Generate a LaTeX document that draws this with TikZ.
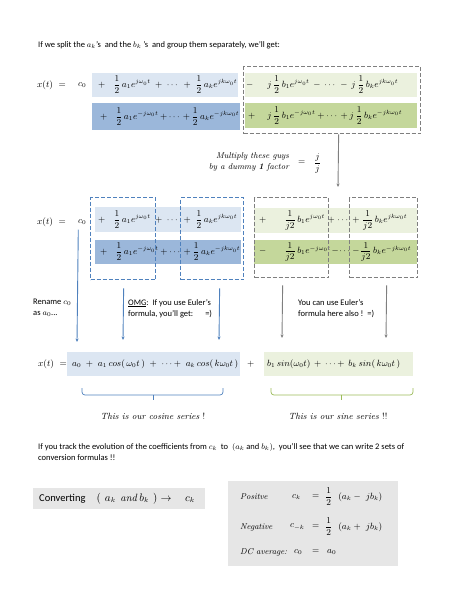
\documentclass[tikz,border=0pt]{standalone}
\usepackage{amsmath}
\usepackage{fontspec}
\setsansfont{Carlito}
\usetikzlibrary{arrows.meta}
\definecolor{lblue}{HTML}{DCE6F2}
\definecolor{dblue}{HTML}{9BB7DA}
\definecolor{lgreen}{HTML}{EBF1DE}
\definecolor{dgreen}{HTML}{C4D79B}
\definecolor{boxgray}{HTML}{E6E6E6}
\definecolor{edgeblue}{HTML}{4F81BD}
\definecolor{edgegray}{HTML}{7F7F7F}
\definecolor{bracegreen}{HTML}{9BBB59}
\tikzset{
  band/.style={draw=none, inner sep=0, anchor=north west},
  lbband/.style={band, fill=lblue},
  dbband/.style={band, fill=dblue},
  lgband/.style={band, fill=lgreen},
  dgband/.style={band, fill=dgreen},
  graybox/.style={band, fill=boxgray},
  bdash/.style={draw=edgeblue, dash pattern=on 4pt off 2pt, line width=1.3pt, inner sep=0, anchor=north west},
  gdash/.style={draw=edgegray, dash pattern=on 4pt off 2pt, line width=1.3pt, inner sep=0, anchor=north west},
  mt/.style={inner sep=0, anchor=west, font=\fontsize{9}{11}\selectfont},
  lab/.style={inner sep=0, anchor=west, font=\rmfamily\itshape\fontsize{8.5}{11}\selectfont},
  txt/.style={inner sep=0, anchor=north west, align=left},
  barrow/.style={draw=edgeblue, line width=0.9pt, -{Stealth[length=3.5pt,width=3pt]}},
  garrow/.style={draw=edgegray, line width=0.9pt, -{Stealth[length=3.5pt,width=3pt]}},
  bbrace/.style={draw=edgeblue, line width=0.7pt, rounded corners=3pt},
  gbrace/.style={draw=bracegreen, line width=0.7pt, rounded corners=3pt},
}
\begin{document}
\begin{tikzpicture}[x=1pt,y=-1pt,font=\sffamily\fontsize{8.5}{11}\selectfont]
\useasboundingbox (0,0) rectangle (474,613);

% intro
\node[anchor=west, inner sep=0] (intro) at (38,45) {If we split the $a_k$'s\ \ and the $b_k$ 's\ \ and group them separately, we'll get:};

% ---------- row 1
\node[mt] (x1) at (37,85) {$x(t)\ =$};
\node[mt] (c01) at (78,85) {$c_0$};
\node[lbband, minimum width=146pt, minimum height=24pt] (lb1) at (92,73) {};
\node[dbband, minimum width=148pt, minimum height=27pt] (db1) at (92,103) {};
\node[lgband, minimum width=172pt, minimum height=24pt] (lg1) at (245,73) {};
\node[dgband, minimum width=172pt, minimum height=25pt] (dg1) at (245,103) {};
\node[mt] (lb1t) at (98,85) {\hbox to 139pt{$+$\hspace{8pt}$\dfrac12\,a_1e^{j\omega_0t}$\hfill$+$\hfill$\cdots$\hfill$+$\hfill$\dfrac12\,a_ke^{jk\omega_0t}$}};
\node[mt] (db1t) at (100,116.5) {\hbox to 139pt{$+$\hspace{8pt}$\dfrac12\,a_1e^{-j\omega_0t}$\hfill$+$\hfill$\cdots$\hfill$+$\hfill$\dfrac12\,a_ke^{-jk\omega_0t}$}};
\node[mt] (lg1t) at (246,85) {\hbox to 152pt{$-$\hspace{14pt}$j\,\dfrac12\,b_1e^{j\omega_0t}$\hfill$-$\hfill$\cdots$\hfill$-$\hfill$j\,\dfrac12\,b_ke^{jk\omega_0t}$}};
\node[mt] (dg1t) at (248,115.5) {\hbox to 154pt{$+$\hspace{12pt}$j\,\dfrac12\,b_1e^{-j\omega_0t}$\hfill$+$\hfill$\cdots$\hfill$+$\hfill$j\,\dfrac12\,b_ke^{-jk\omega_0t}$}};
\node[gdash, minimum width=177pt, minimum height=67pt] (g1) at (243,66) {};

% multiply
\coordinate (a1end) at (338,187);
\draw[garrow] ([xshift=6.5pt]g1.south) -- (a1end);
\node[inner sep=0, align=right, font=\rmfamily\itshape\fontsize{8.5}{11}\selectfont] (mult) at (249,162) {Multiply these guys\\by a dummy \textbf{1} factor};
\node[mt] (multeq) at (298,163) {$=\ \ \dfrac{j}{j}$};

% ---------- row 2
\node[mt] (x2) at (37,222) {$x(t)\ =$};
\node[mt] (c02) at (78,222) {$c_0$};
\node[lbband, minimum width=146pt, minimum height=25pt] (lb2) at (95,207) {};
\node[dbband, minimum width=146pt, minimum height=24pt] (db2) at (95,240) {};
\node[lgband, minimum width=163pt, minimum height=25pt] (lg2) at (254,208) {};
\node[dgband, minimum width=163pt, minimum height=24pt] (dg2) at (254,240) {};
\node[mt] (lb2t) at (98,219.5) {\hbox to 139pt{$+$\hspace{8pt}$\dfrac12\,a_1e^{j\omega_0t}$\hfill$+$\hfill$\cdots$\hfill$+$\hfill$\dfrac12\,a_ke^{jk\omega_0t}$}};
\node[mt] (db2t) at (100,252) {\hbox to 140pt{$+$\hspace{8pt}$\dfrac12\,a_1e^{-j\omega_0t}$\hfill$+$\hfill$\cdots$\hfill$+$\hfill$\dfrac12\,a_ke^{-jk\omega_0t}$}};
\node[mt] (lg2t) at (259,220.5) {\hbox to 148pt{$+$\hspace{18pt}$\dfrac{1}{j2}\,b_1e^{j\omega_0t}$\hfill$+$\hfill$\cdots$\hfill$+$\hfill$\dfrac{1}{j2}\,b_ke^{jk\omega_0t}$}};
\node[mt] (dg2t) at (259,252) {\hbox to 152pt{$-$\hspace{18pt}$\dfrac{1}{j2}\,b_1e^{-j\omega_0t}$\hfill$-$\hfill$\cdots$\hfill$-$\hfill$\dfrac{1}{j2}\,b_ke^{-jk\omega_0t}$}};
\node[bdash, minimum width=65pt, minimum height=82pt] (bb1) at (90,197) {};
\node[bdash, minimum width=63pt, minimum height=82pt] (bb2) at (180,197) {};
\node[gdash, minimum width=74pt, minimum height=80pt] (gb3) at (254,197) {};
\node[gdash, minimum width=68pt, minimum height=80pt] (gb4) at (349,197) {};

% arrows row 2 -> row 3
\coordinate (e0) at (77,342);
\coordinate (e1) at (123,340);
\coordinate (e2) at (219,340);
\coordinate (e3) at (282,338);
\coordinate (e4) at (386,338);
\draw[barrow] ([xshift=-4pt,yshift=-5pt]c02.south) -- (e0);
\draw[barrow] ([xshift=0.5pt,yshift=-8pt]bb1.south) -- (e1);
\draw[barrow] ([xshift=7.5pt,yshift=-8pt]bb2.south) -- (e2);
\draw[garrow] ([xshift=-9pt,yshift=-7pt]gb3.south) -- (e3);
\draw[garrow] ([xshift=3pt,yshift=-7pt]gb4.south) -- (e4);

\node[txt] (rename) at (33,299) {Rename $c_0$\\as $a_0$...};
\node[txt] (omg) at (128,299) {\underline{OMG}:\ \ If you use Euler's\\formula, you'll get:\hspace{12pt}=)};
\node[txt] (euler) at (298,299) {You can use Euler's\\formula here also !\ \ =)};

% ---------- row 3
\node[mt] (x3) at (38,364) {$x(t)\ =$};
\node[lbband, minimum width=173pt, minimum height=24pt] (bl3) at (67,352) {};
\node[mt] (plus3) at (247,364) {$+$};
\node[lgband, minimum width=149pt, minimum height=24pt] (gr3) at (264,352) {};
\node[mt] (bl3t) at (72,364) {\hbox to 166pt{$a_0$\hfill$+$\hfill$a_1\,cos(\,\omega_0t\,)$\hfill$+$\hfill$\cdots+$\hfill$a_k\,cos(\,k\omega_0t\,)$}};
\node[mt] (gr3t) at (267,364) {\hbox to 133pt{$b_1\,sin(\omega_0t)$\hfill$+$\hfill$\cdots+$\hfill$b_k\,sin(\,k\omega_0t\,)$}};

% braces
\draw[bbrace] (82,388) |- (153,395);
\draw[bbrace] (223,388) |- (153,395);
\draw[draw=edgeblue, line width=0.7pt] (153,395) -- (153,400);
\draw[gbrace] (271,388) |- (341,395);
\draw[gbrace] (413,388) |- (341,395);
\draw[draw=bracegreen, line width=0.7pt] (341,395) -- (341,400);

\node[inner sep=0, font=\rmfamily\itshape\fontsize{9}{11}\selectfont] (cap1) at (153,416) {This is our cosine series \upshape!};
\node[inner sep=0, font=\rmfamily\itshape\fontsize{9}{11}\selectfont] (cap2) at (338,416) {This is our sine series \upshape!!};

% paragraph
\node[txt] (para) at (38,443) {If you track the evolution of the coefficients from $c_k$\ \ to\ \ $(a_k$ and $b_k)$,\ \ you'll see that we can write 2 sets of\\conversion formulas !!};

% converting box
\node[graybox, minimum width=172pt, minimum height=21pt] (conv) at (33,488) {};
\node[inner sep=0, anchor=west, font=\sffamily\fontsize{10.5}{12}\selectfont] (convt) at (39,498.5) {Converting\hspace{11pt}$(\ \,a_k\ \ \mathit{and}\ b_k\ \,)\rightarrow\quad c_k$};

% formula box
\node[graybox, minimum width=170pt, minimum height=85pt] (fbox) at (228,481) {};
\node[lab] (pos) at (240,497) {Positve};
\node[mt] (ck) at (292,497) {$c_k$};
\node[mt] (eq1) at (312,497) {$=$};
\node[mt] (f1) at (325,497) {$\dfrac12\ \ (a_k-\ jb_k)$};
\node[lab] (neg) at (240,527) {Negative};
\node[mt] (cmk) at (290,527) {$c_{-k}$};
\node[mt] (eq2) at (312,527) {$=$};
\node[mt] (f2) at (325,527) {$\dfrac12\ \ (a_k+\ jb_k)$};
\node[lab] (dc) at (240,552) {DC average:};
\node[mt] (c0f) at (294,552) {$c_0$};
\node[mt] (eq3) at (312,552) {$=$};
\node[mt] (a0f) at (327,552) {$a_0$};
\end{tikzpicture}
\end{document}
